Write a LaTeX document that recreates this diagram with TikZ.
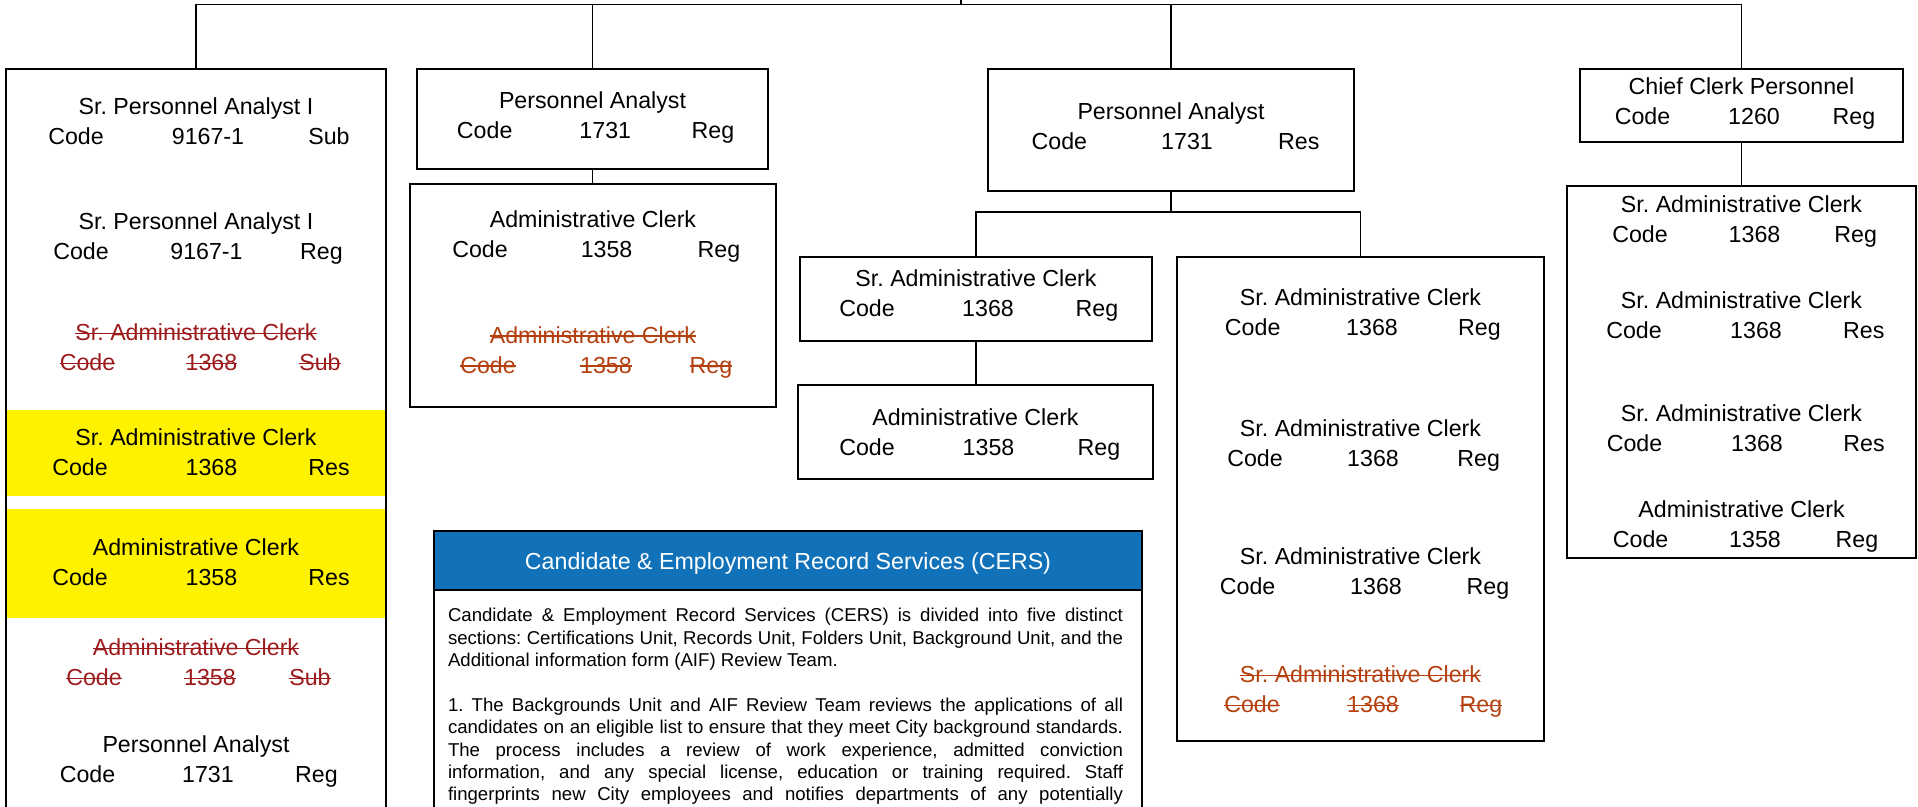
\documentclass[tikz,border=0pt]{standalone}
\usepackage{fontspec}
\setmainfont{Liberation Sans}
\frenchspacing

\definecolor{cersblue}{HTML}{1172BA}
\definecolor{oldred}{HTML}{9C1A1C}
\definecolor{oldrust}{HTML}{B5400F}

\tikzset{
  box/.style={draw=black, line width=1pt, inner sep=0pt, outer sep=0pt},
  link/.style={draw=black, line width=0.9pt},
  lbl/.style={inner sep=0pt, outer sep=0pt, anchor=base,
    font=\fontsize{11.6pt}{13pt}\selectfont},
  entry/.style={lbl},
  strikeline/.style={line width=0.7pt},
  gone/.style={lbl, text=#1,
    append after command={\pgfextra{\let\gonenode\tikzlastnode
      \draw[strikeline,#1] ([yshift=3.6pt]\gonenode.base west) -- ([yshift=3.6pt]\gonenode.base east);}}},
  bodyline/.style={inner sep=0pt, outer sep=0pt, anchor=base west,
    font=\fontsize{9.3pt}{11.2pt}\selectfont},
}

% rectangle given by its corners (x1,y1) and (x2,y2)
\newcommand{\frameat}[6][]{%
  \node[box, #1, minimum width={(#5-#3)*0.5pt}, minimum height={(#6-#4)*0.5pt}]
    (#2) at ({(#3+#5)/2},{(#4+#6)/2}) {};%
}

% one position: title centred in its box, then the Code / number / type line
% #1 name, #2 box, #3 title baseline, #4 title, #5 x of Code, #6 number, #7 x of number, #8 type, #9 x of type
\newcommand{\post}[9]{%
  \node[entry] (#1t) at (#2.center |- 0,#3) {#4};
  \node[entry] (#1c) at (#5,#3+30) {Code};
  \node[entry] (#1n) at (#7,#3+30) {#6};
  \node[entry] (#1r) at (#9,#3+30) {#8};
}

\begin{document}
\begin{tikzpicture}[x=0.5pt, y=-0.5pt]
\useasboundingbox (0,0) rectangle (1918,807);
\clip (0,0) rectangle (1918,807);

% highlighted rows
\frameat[draw=none, fill=yellow]{hlA}{7}{410}{385}{496}
\frameat[draw=none, fill=yellow]{hlB}{7}{509}{385}{618}

% boxes
\frameat{lbox}{6}{69}{386}{860}
\frameat{pa1}{417}{69}{768}{169}
\frameat{ac1}{410}{184}{776}{407}
\frameat{pa2}{988}{69}{1354}{191}
\frameat{sac1}{800}{257}{1152}{341}
\frameat{ac2}{798}{385}{1153}{479}
\frameat{big}{1177}{257}{1544}{741}
\frameat{ccp}{1580}{69}{1903}{142}
\frameat{rbox}{1567}{186}{1916}{558}
\frameat{cers}{434}{531}{1142}{860}
\frameat[fill=cersblue]{cershead}{434}{531}{1142}{590}

% connectors
\coordinate (root) at (961,-5);
\coordinate (bus) at (961,4.5);
\coordinate (fork) at (1171,212);
\draw[link] (root) -- (bus);
\draw[link] (lbox.north) |- (bus) -| (ccp.north);
\draw[link] (pa1.north) -- (pa1.north |- bus);
\draw[link] (pa2.north) -- (pa2.north |- bus);
\draw[link] (pa1.south) -- (pa1.south |- ac1.north);
\draw[link] (pa2.south) -- (fork);
\draw[link] (sac1.north) |- (fork) -| (big.north);
\draw[link] (sac1.south) -- (sac1.south |- ac2.north);
\draw[link] (ccp.south) -- (rbox.north);

% left column
\post{lA}{lbox}{115}{Sr. Personnel Analyst I}{76}{9167-1}{208}{Sub}{329}
\post{lB}{lbox}{230}{Sr. Personnel Analyst I}{81}{9167-1}{206.5}{Reg}{321.5}
\begin{scope}[entry/.style={gone=oldred}]
\post{lC}{lbox}{340.7}{Sr. Administrative Clerk}{87.5}{1368}{211.5}{Sub}{320}
\end{scope}
\post{lD}{lbox}{445.7}{Sr. Administrative Clerk}{80}{1368}{211.5}{Res}{329}
\post{lE}{lbox}{555.7}{Administrative Clerk}{80}{1358}{211.5}{Res}{329}
\begin{scope}[entry/.style={gone=oldred}]
\post{lF}{lbox}{655.7}{Administrative Clerk}{94}{1358}{210}{Sub}{310}
\end{scope}
\post{lG}{lbox}{752}{Personnel Analyst}{87.5}{1731}{208}{Reg}{316.5}

% second column
\post{pA}{pa1}{108.3}{Personnel Analyst}{484.7}{1731}{605.3}{Reg}{713}
\post{aA}{ac1}{227.7}{Administrative Clerk}{480}{1358}{606.6}{Reg}{719}
\begin{scope}[entry/.style={gone=oldrust}]
\post{aB}{ac1}{343.3}{Administrative Clerk}{488}{1358}{606}{Reg}{711}
\end{scope}

% third column
\post{qA}{pa2}{119.3}{Personnel Analyst}{1059.4}{1731}{1187}{Res}{1298.8}
\post{sA}{sac1}{286.7}{Sr. Administrative Clerk}{867}{1368}{988}{Reg}{1097}
\post{cA}{ac2}{426}{Administrative Clerk}{867}{1358}{988.5}{Reg}{1099}
\post{bA}{big}{306}{Sr. Administrative Clerk}{1252.7}{1368}{1372}{Reg}{1479.5}
\post{bB}{big}{436.7}{Sr. Administrative Clerk}{1255}{1368}{1373}{Reg}{1478.7}
\post{bC}{big}{565}{Sr. Administrative Clerk}{1247.6}{1368}{1376}{Reg}{1488}
\begin{scope}[entry/.style={gone=oldrust}]
\post{bD}{big}{682.7}{Sr. Administrative Clerk}{1252}{1368}{1373}{Reg}{1481}
\end{scope}

% right column
\post{kA}{ccp}{94.3}{Chief Clerk Personnel}{1642.5}{1260}{1754}{Reg}{1854}
\post{rA}{rbox}{212.7}{Sr. Administrative Clerk}{1640}{1368}{1754.5}{Reg}{1855.7}
\post{rB}{rbox}{308.3}{Sr. Administrative Clerk}{1634}{1368}{1756}{Res}{1863.8}
\post{rC}{rbox}{421.7}{Sr. Administrative Clerk}{1634.5}{1368}{1757}{Res}{1864}
\post{rD}{rbox}{517.7}{Administrative Clerk}{1640.6}{1358}{1755}{Reg}{1857}

% CERS panel
\node[lbl, text=white] (cerstitle) at (788,569.5) {Candidate \& Employment Record Services (CERS)};
\node[bodyline] (cb1) at (448,621.7) {\makebox[337.5pt][s]{Candidate \& Employment Record Services (CERS) is divided into five distinct}};
\node[bodyline] (cb2) at (448,644.1) {\makebox[337.5pt][s]{sections: Certifications Unit, Records Unit, Folders Unit, Background Unit, and the}};
\node[bodyline] (cb3) at (448,666.5) {Additional information form (AIF) Review Team.};
\node[bodyline] (cb4) at (448,711.3) {\makebox[337.5pt][s]{1. The Backgrounds Unit and AIF Review Team reviews the applications of all}};
\node[bodyline] (cb5) at (448,733.7) {\makebox[337.5pt][s]{candidates on an eligible list to ensure that they meet City background standards.}};
\node[bodyline] (cb6) at (448,756.1) {\makebox[337.5pt][s]{The process includes a review of work experience, admitted conviction}};
\node[bodyline] (cb7) at (448,778.5) {\makebox[337.5pt][s]{information, and any special license, education or training required. Staff}};
\node[bodyline] (cb8) at (448,800.9) {\makebox[337.5pt][s]{fingerprints new City employees and notifies departments of any potentially}};
\end{tikzpicture}
\end{document}
